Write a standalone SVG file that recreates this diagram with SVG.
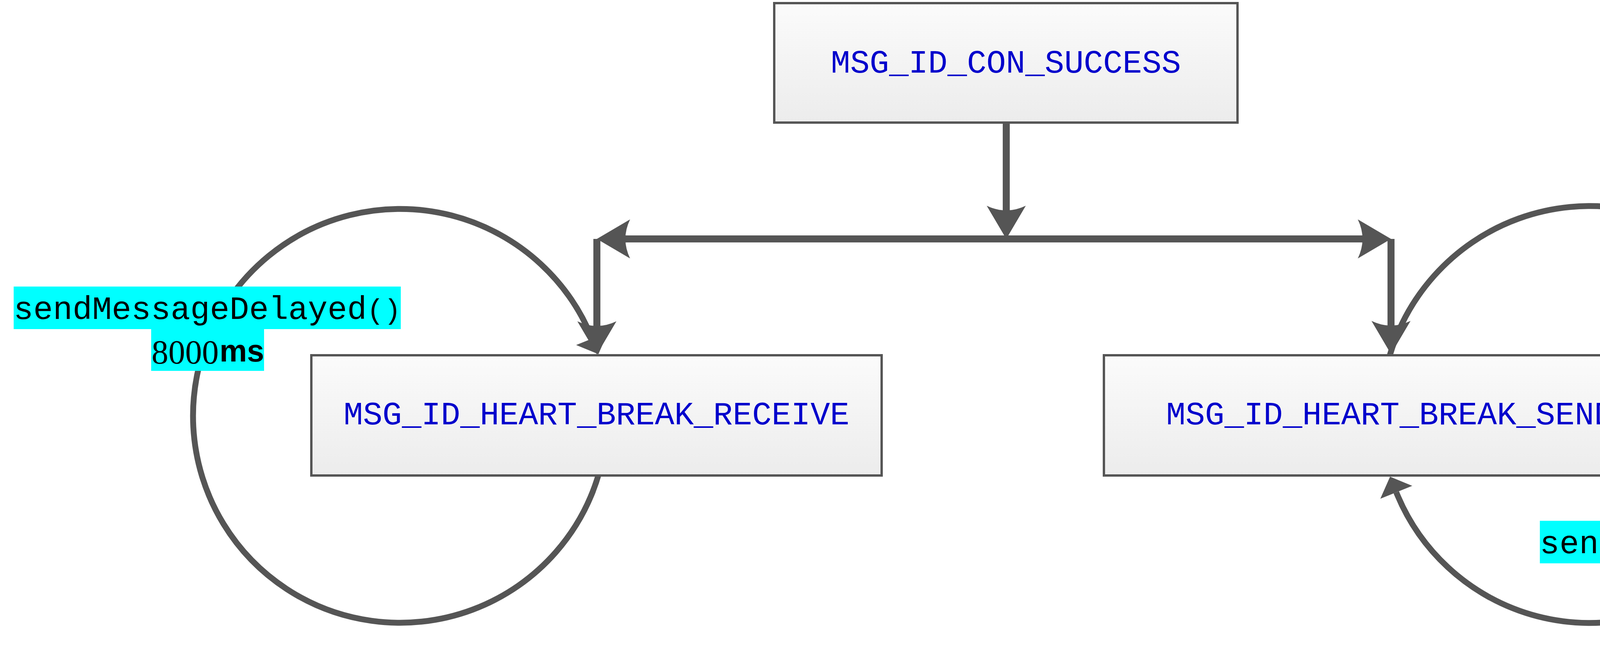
<svg xmlns="http://www.w3.org/2000/svg" width="4981" height="1665" viewBox="0 0 4981 1665">
<style>
.node rect{stroke:#555555;stroke-width:6;fill:url(#nodeFill)}
.node text{font-family:"Liberation Mono","Courier New",monospace;font-size:83px;fill:#0000CC;text-anchor:middle}
.edge{fill:none;stroke:#555555;stroke-width:18}
.loop{fill:none;stroke:#555555;stroke-width:15}
.bg{fill:#00FFFF}
.mono{font-family:"Liberation Mono","Courier New",monospace;fill:#000000}
.serif{font-family:"Liberation Serif","Times New Roman",serif;fill:#000000}
.sansb{font-family:"Liberation Sans",Arial,sans-serif;font-weight:bold;fill:#000000}
</style>
<defs>
<linearGradient id="nodeFill" x1="0" y1="0" x2="0" y2="1">
<stop offset="0" stop-color="#fbfbfb"/>
<stop offset="1" stop-color="#ececec"/>
</linearGradient>
<marker id="arr" markerUnits="userSpaceOnUse" viewBox="-15 -55 100 110" markerWidth="100" markerHeight="110" refX="0" refY="0" orient="auto-start-reverse" overflow="visible">
<path d="M73,0 L-12,-50 Q12,0 -12,50 Z" fill="#555555"/>
</marker>
<marker id="tri" markerUnits="userSpaceOnUse" viewBox="-2 -46 48 92" markerWidth="48" markerHeight="92" refX="0" refY="0" orient="auto" overflow="visible">
<path d="M43,0 L0,-44 L0,44 Z" fill="#555555"/>
</marker>
</defs>
<rect width="4981" height="1665" fill="#ffffff"/>
<g id="connectors">
<path class="loop" d="M1534,1210 A530,530 0 1 1 1515.8,867.3" marker-end="url(#tri)"/>
<path class="loop" d="M3558,910 A534,534 0 1 1 3574.5,1261" marker-end="url(#tri)"/>
<path class="edge" d="M2576,314 L2576,539" marker-end="url(#arr)"/>
<path class="edge" d="M1601,612 L3488,612" marker-start="url(#arr)" marker-end="url(#arr)"/>
<path class="edge" d="M1528,612 L1528,835" marker-end="url(#arr)"/>
<path class="edge" d="M3561,612 L3561,834" marker-end="url(#arr)"/>
<g id="label-receive">
<rect class="bg" x="35" y="734" width="904" height="109"/>
<rect class="bg" x="939" y="734" width="87" height="109"/>
<rect class="bg" x="387" y="843" width="175" height="107"/>
<rect class="bg" x="562" y="843" width="114" height="107"/>
<text class="mono" x="35" y="817" font-size="83.7">sendMessageDelayed</text>
<text class="mono" x="939" y="817" font-size="73">()</text>
<text class="serif" x="388" y="931" font-size="86">8000</text>
<text class="sansb" x="562" y="926" font-size="79">ms</text>
</g>
<g id="label-send">
<rect class="bg" x="3942" y="1334" width="904" height="109"/>
<rect class="bg" x="4846" y="1334" width="87" height="109"/>
<rect class="bg" x="4293" y="1443" width="175" height="107"/>
<rect class="bg" x="4468" y="1443" width="113" height="107"/>
<text class="mono" x="3942" y="1417" font-size="83.7">sendMessageDelayed</text>
<text class="mono" x="4846" y="1417" font-size="73">()</text>
<text class="serif" x="4294" y="1531" font-size="86">2500</text>
<text class="sansb" x="4468" y="1526" font-size="79">ms</text>
</g>
</g>
<g id="node-con-success" class="node">
<rect x="1982" y="8" width="1186" height="306"/>
<text x="2575" y="186">MSG_ID_CON_SUCCESS</text>
</g>
<g id="node-heart-break-receive" class="node">
<rect x="797" y="910" width="1460" height="308"/>
<text x="1527" y="1087">MSG_ID_HEART_BREAK_RECEIVE</text>
</g>
<g id="node-heart-break-send" class="node">
<rect x="2826" y="910" width="1465" height="308"/>
<text x="3558" y="1087">MSG_ID_HEART_BREAK_SEND</text>
</g>
</svg>
